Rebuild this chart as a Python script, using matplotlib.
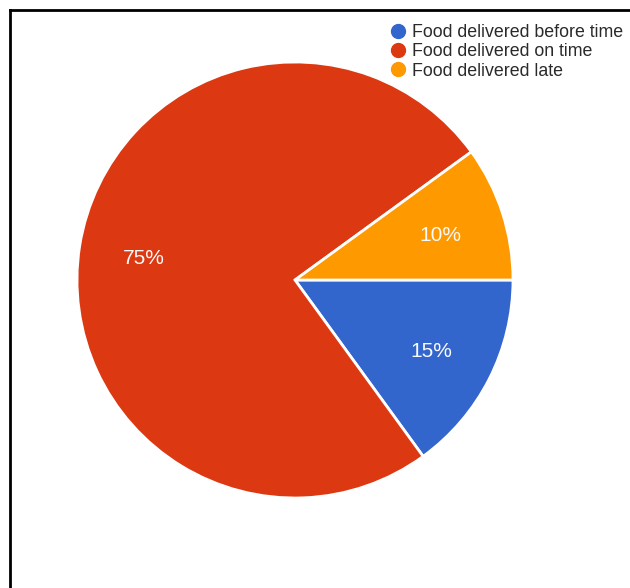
import matplotlib
matplotlib.use("Agg")
import matplotlib.pyplot as plt
from matplotlib.lines import Line2D

labels = ["Food delivered before time", "Food delivered on time", "Food delivered late"]
shares = [15, 75, 10]
colors = ["#3366CC", "#DC3912", "#FF9900"]

plt.rcParams["font.family"] = ["Liberation Sans", "DejaVu Sans"]

fig = plt.figure(figsize=(6.3, 5.88), dpi=100)
ax = fig.add_axes([77 / 630, 90 / 588, 436 / 630, 436 / 588])

wedges, texts, autotexts = ax.pie(
    shares,
    colors=colors,
    startangle=0,
    counterclock=False,
    autopct="%d%%",
    pctdistance=0.7,
    radius=1,
    wedgeprops=dict(edgecolor="white", linewidth=2),
    textprops=dict(color="#FAFAFA", fontsize=15),
)
# nudge the percentage labels down a little
for t in autotexts:
    x, y = t.get_position()
    t.set_position((x, y - 0.01))

ax.set_xlim(-1, 1)
ax.set_ylim(-1, 1)
ax.set_aspect("equal")

handles = [Line2D([], [], marker="o", linestyle="none", markersize=10,
                  markerfacecolor=c, markeredgecolor=c) for c in colors]
fig.legend(handles, labels, loc="upper left", bbox_to_anchor=(389 / 630, 1 - 24 / 588),
           frameon=False, fontsize=12.8, handletextpad=0.3, labelspacing=0.13,
           borderpad=0, borderaxespad=0, handlelength=1.0, labelcolor="#2a2a2a")

# frame lines along the top and left
fig.add_artist(Line2D([10 / 630, 1], [1 - 10 / 588] * 2, color="black", linewidth=2))
fig.add_artist(Line2D([10 / 630] * 2, [0, 1 - 10 / 588], color="black", linewidth=2))

fig.savefig("out.png", dpi=100)
